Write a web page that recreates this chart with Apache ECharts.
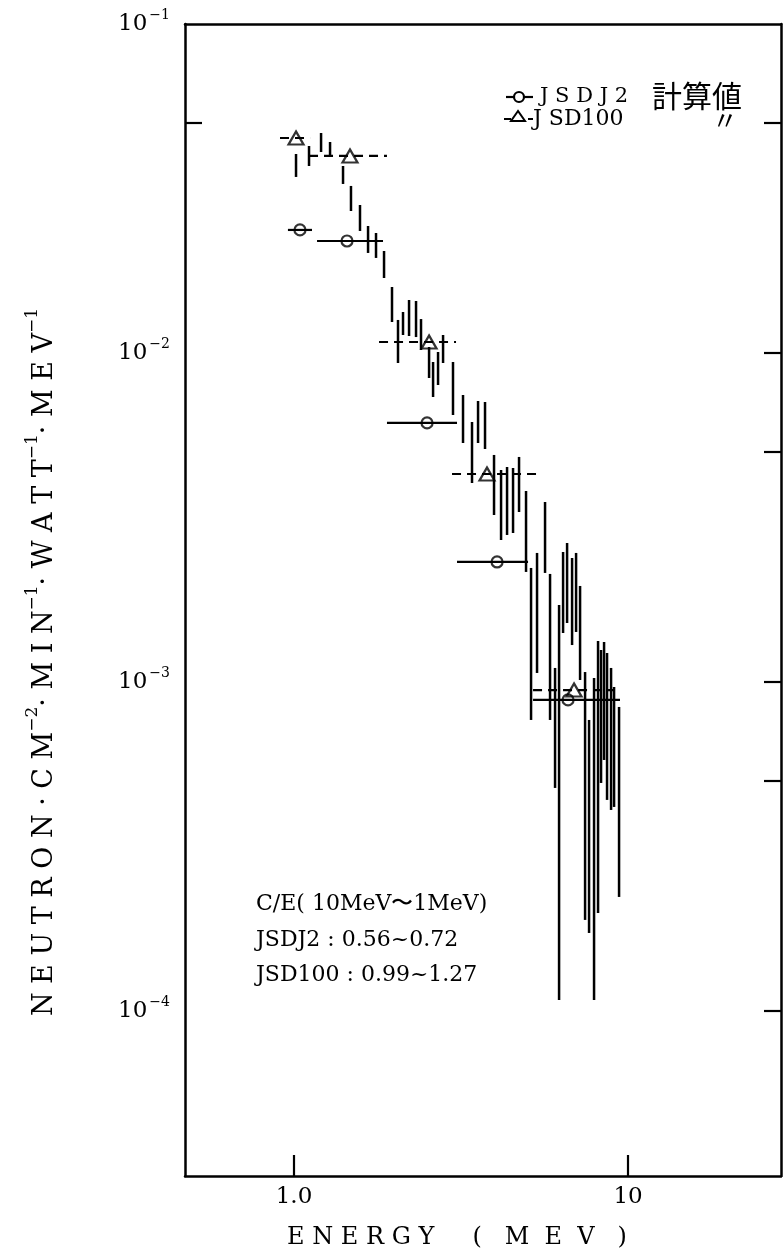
<!DOCTYPE html>
<html><head><meta charset="utf-8">
<script src="https://cdn.jsdelivr.net/npm/echarts@6/dist/echarts.min.js"></script>
<style>html,body{margin:0;padding:0;background:#fff}#c{width:783px;height:1259px}</style>
</head><body><div id="c"></div>
<script>
// ---- experimental spectrum (vertical error bars) ----
const expEnergy = [1.014,1.109,1.205,1.282,1.402,1.481,1.576,1.666,1.760,1.860,
  1.965,2.048,2.120,2.210,2.319,2.400,2.537,2.608,2.699,2.794,
  2.992,3.206,3.411,3.556,3.731,3.970,4.167,4.343,4.526,4.717,
  4.950,5.124,5.340,5.643,5.841,6.046,6.216,6.390,6.569,6.799,
  6.989,7.184,7.436,7.643,7.911,8.132,8.302,8.476,8.652,8.895,
  9.081,9.399];
const expHigh = [0.04026,0.04258,0.04663,0.04378,0.03702,0.03219,0.02817,0.02432,0.02316,0.02042,
  0.01587,0.0126,0.01332,0.01449,0.01439,0.01268,0.01043,0.009389,0.01007,0.01134,
  0.009389,0.007452,0.006169,0.007147,0.007097,0.004898,0.004409,0.004502,0.004471,0.00483,
  0.003806,0.002221,0.002467,0.003524,0.00213,0.001103,0.001714,0.002484,0.002645,0.002381,
  0.002467,0.001958,0.001072,0.0007665,0.001028,0.001332,0.001251,0.001323,0.001225,0.001103,
  0.0009656,0.0008395];
const expLow = [0.03428,0.03702,0.04082,0.0397,0.03264,0.02701,0.02349,0.02014,0.01945,0.0169,
  0.01242,0.009324,0.01134,0.01126,0.01118,0.01021,0.008395,0.00735,0.007993,0.009324,
  0.006479,0.005325,0.004026,0.005325,0.005107,0.003218,0.002701,0.002798,0.002837,0.003286,
  0.00216,0.0007665,0.001065,0.002145,0.0007665,0.0004763,0.000108,0.001409,0.001511,0.001295,
  0.001419,0.001014,0.0001891,0.0001726,0.000108,0.0001986,0.0004932,0.0005793,0.000438,0.0004083,
  0.000417,0.0002221];

// ---- JSDJ2 calculation (solid steps, circles) ----
const j2BinLow  = [0.959, 1.172, 1.898, 3.076, 5.195];
const j2BinHigh = [1.132, 1.847, 3.076, 5.019, 9.46];
const j2Value   = [0.02366, 0.02190, 0.006128, 0.002316, 0.000882];
const j2Mark    = [1.042, 1.441, 2.502, 4.054, 6.612];

// ---- JSD100 calculation (dashed steps, triangles) ----
const j100BinLow  = [0.908, 1.109, 1.797, 2.972, 5.195];
const j100BinHigh = [1.117, 1.898, 3.055, 5.377, 9.14];
const j100Value   = [0.04503, 0.03971, 0.01080, 0.004287, 0.000945];
const j100Mark    = [1.014, 1.471, 2.537, 3.782, 6.892];

// ---- axis ticks ----
const xTickValues = [1, 10];
const xTickLabels = ['1.0', '10'];
const yLabelValues = [0.1, 0.01, 0.001, 0.0001];
const yLabelExps = ['−1', '−2', '−3', '−4'];
const yLeftTicks = [0.05];
const yRightTicks = [0.05, 0.01, 0.005, 0.001, 0.0005, 0.0001];

const SERIF = '"DejaVu Serif", "Liberation Serif", serif';
const CJK = '"Noto Sans CJK JP", "Noto Sans CJK SC", sans-serif';
const chart = echarts.init(document.getElementById('c'));

function vbar(params, api) {
  const a = api.coord([api.value(0), api.value(1)]);
  const b = api.coord([api.value(0), api.value(2)]);
  return {type: 'line', shape: {x1: a[0], y1: a[1], x2: b[0], y2: b[1]},
    style: {stroke: '#000', lineWidth: 2.5}};
}
function hbar(dash) {
  return function (params, api) {
    const a = api.coord([api.value(0), api.value(2)]);
    const b = api.coord([api.value(1), api.value(2)]);
    return {type: 'line', shape: {x1: a[0], y1: a[1], x2: b[0], y2: b[1]},
      style: {stroke: '#000', lineWidth: 2.2, lineDash: dash}};
  };
}
const axisLineStyle = {color: '#000', width: 2.5};

chart.setOption({
  animation: false,
  backgroundColor: '#fff',
  grid: {left: 185, right: 2, top: 24, bottom: 83, containLabel: false},
  xAxis: [{
    type: 'log', min: 0.4717, max: 28.7, position: 'bottom',
    axisLine: {show: true, lineStyle: axisLineStyle},
    axisTick: {show: true, inside: true, length: 21, customValues: xTickValues, lineStyle: {color: '#000', width: 2.2}},
    axisLabel: {show: true, customValues: xTickValues, margin: 10,
      formatter: v => xTickLabels[xTickValues.indexOf(v)] ?? '',
      fontFamily: SERIF, fontSize: 23, color: '#000'},
    splitLine: {show: false}, minorTick: {show: false},
    name: 'E N E R G Y     (   M  E  V   )', nameLocation: 'middle', nameGap: 50,
    nameTextStyle: {fontFamily: SERIF, fontSize: 24, color: '#000', padding: [0, 52, 0, 0]}
  }, {
    type: 'log', min: 0.4717, max: 28.7, position: 'top',
    axisLine: {show: true, lineStyle: axisLineStyle},
    axisTick: {show: false}, axisLabel: {show: false}, splitLine: {show: false}
  }],
  yAxis: [{
    type: 'log', min: 3.15e-5, max: 0.1, position: 'left',
    axisLine: {show: true, lineStyle: axisLineStyle},
    axisTick: {show: true, inside: true, length: 17, customValues: yLeftTicks, lineStyle: {color: '#000', width: 2.2}},
    axisLabel: {show: true, customValues: yLabelValues, margin: 15,
      formatter: v => {
        const i = yLabelValues.findIndex(t => Math.abs(t - v) / t < 1e-6);
        return i < 0 ? '' : '{b|10}{s|' + yLabelExps[i] + '}';
      },
      rich: {
        b: {fontFamily: SERIF, fontSize: 23, color: '#000'},
        s: {fontFamily: SERIF, fontSize: 14, color: '#000', padding: [0, 0, 18, 2]}
      }},
    splitLine: {show: false}, minorTick: {show: false}
  }, {
    type: 'log', min: 3.15e-5, max: 0.1, position: 'right',
    axisLine: {show: true, lineStyle: axisLineStyle},
    axisTick: {show: true, inside: true, length: 17, customValues: yRightTicks, lineStyle: {color: '#000', width: 2.2}},
    axisLabel: {show: false}, splitLine: {show: false}
  }],
  series: [{
    type: 'custom', name: 'experiment', renderItem: vbar, clip: false,
    encode: {x: 0, y: [1, 2]},
    data: expEnergy.map((e, i) => [e, expLow[i], expHigh[i]])
  }, {
    type: 'custom', name: 'JSDJ2 bins', renderItem: hbar(null), clip: false,
    encode: {x: [0, 1], y: 2},
    data: j2BinLow.map((lo, i) => [lo, j2BinHigh[i], j2Value[i]])
  }, {
    type: 'custom', name: 'JSD100 bins', renderItem: hbar([9, 6]), clip: false,
    encode: {x: [0, 1], y: 2},
    data: j100BinLow.map((lo, i) => [lo, j100BinHigh[i], j100Value[i]])
  }, {
    type: 'scatter', name: 'JSDJ2', symbol: 'circle', symbolSize: 11,
    itemStyle: {color: 'rgba(255,255,255,0)', borderColor: '#000', borderWidth: 2.2},
    data: j2Mark.map((e, i) => [e, j2Value[i]])
  }, {
    type: 'scatter', name: 'JSD100', symbol: 'triangle', symbolSize: [15, 13],
    itemStyle: {color: 'rgba(255,255,255,0)', borderColor: '#000', borderWidth: 2.2},
    data: j100Mark.map((e, i) => [e, j100Value[i]])
  }],
  graphic: [
    // y-axis title
    {type: 'text', x: 45, y: 662, rotation: Math.PI / 2,
      style: {
        text: '{m|N E U T R O N · C M}{s|−2}{m|· M I N}{s|−1}{m|· W A T T}{s|−1}{m|· M E V}{s|−1}',
        align: 'center', verticalAlign: 'middle',
        rich: {
          m: {fontFamily: SERIF, fontSize: 27, fill: '#000'},
          s: {fontFamily: SERIF, fontSize: 17, fill: '#000', padding: [0, 0, 24, 0]}
        }
      }},
    // legend
    {type: 'line', shape: {x1: 506, y1: 97, x2: 533, y2: 97}, style: {stroke: '#000', lineWidth: 2.2}},
    {type: 'circle', shape: {cx: 519, cy: 97, r: 5}, style: {fill: '#fff', stroke: '#000', lineWidth: 2.2}},
    {type: 'text', x: 540, y: 97, style: {text: 'J S D J 2', font: '21px ' + SERIF, fill: '#000', verticalAlign: 'middle'}},
    {type: 'text', x: 652, y: 96, style: {text: '計算値', font: '30px ' + CJK, fill: '#000', verticalAlign: 'middle'}},
    {type: 'line', shape: {x1: 504, y1: 119, x2: 533, y2: 119}, style: {stroke: '#000', lineWidth: 2.2, lineDash: [7, 5]}},
    {type: 'polygon', shape: {points: [[518, 111], [511, 121], [525, 121]]}, style: {fill: '#fff', stroke: '#000', lineWidth: 2}},
    {type: 'text', x: 533, y: 119, style: {text: 'J SD100', font: '22px ' + SERIF, fill: '#000', verticalAlign: 'middle'}},
    {type: 'text', x: 712, y: 120, style: {text: '〃', font: '26px ' + CJK, fill: '#000', verticalAlign: 'middle'}},
    // annotation
    {type: 'text', x: 256, y: 904, style: {text: 'C/E( 10MeV〜1MeV)', font: '22px ' + SERIF, fill: '#000', verticalAlign: 'middle'}},
    {type: 'text', x: 256, y: 940, style: {text: 'JSDJ2 : 0.56~0.72', font: '22px ' + SERIF, fill: '#000', verticalAlign: 'middle'}},
    {type: 'text', x: 256, y: 975, style: {text: 'JSD100 : 0.99~1.27', font: '22px ' + SERIF, fill: '#000', verticalAlign: 'middle'}}
  ]
});
</script></body></html>
